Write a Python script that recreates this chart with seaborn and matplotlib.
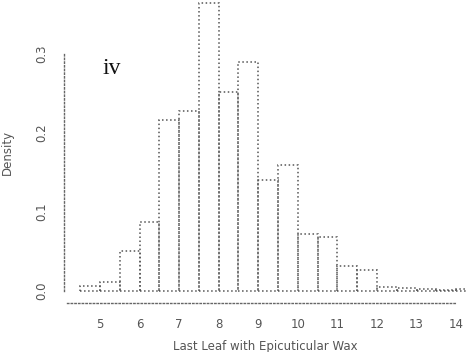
import numpy as np
import pandas as pd
import seaborn as sns
import matplotlib
matplotlib.use("Agg")
import matplotlib.pyplot as plt

# Bin edges (width 0.5) and density heights
bin_left = [4.5, 5.0, 5.5, 6.0, 6.5, 7.0, 7.5, 8.0, 8.5, 9.0, 9.5, 10.0,
            10.5, 11.0, 11.5, 12.0, 12.5, 13.0, 13.5, 14.0]
density = [0.006, 0.012, 0.051, 0.087, 0.217, 0.228, 0.364, 0.252, 0.290,
           0.140, 0.159, 0.072, 0.068, 0.032, 0.026, 0.005, 0.004, 0.002,
           0.001, 0.002]
x_ticks = [5, 6, 7, 8, 9, 10, 11, 12, 13, 14]
y_ticks = [0.0, 0.1, 0.2, 0.3]
y_tick_labels = ["0.0", "0.1", "0.2", "0.3"]

df = pd.DataFrame({"center": np.array(bin_left) + 0.25, "density": density})
edges = list(bin_left) + [bin_left[-1] + 0.5]

sns.set_style("white")
plt.rcParams["font.family"] = ["DejaVu Sans"]

fig = plt.figure(figsize=(4.72, 3.52), dpi=100)
ax = fig.add_axes([64/472, 1 - 303/352, (466 - 64)/472, (303 - 2)/352])

sns.histplot(data=df, x="center", weights="density", bins=edges, stat="count",
             fill=False, element="bars", ax=ax, color="#555555",
             linewidth=1.1, linestyle=":")
for p in ax.patches:
    p.set_edgecolor("#555555")
    p.set_linestyle(":")

ax.set_xlim(4.09, 14.25)
ax.set_ylim(-0.0152, 0.3658)

for s in ["top", "right"]:
    ax.spines[s].set_visible(False)
ax.spines["left"].set_bounds(0, 0.3)
ax.spines["bottom"].set_bounds(4.17, 14.0)
for s in ["left", "bottom"]:
    ax.spines[s].set_linestyle(":")
    ax.spines[s].set_color("#666666")
    ax.spines[s].set_linewidth(1.0)

ax.set_xticks(x_ticks)
ax.set_xticklabels([str(t) for t in x_ticks])
ax.set_yticks(y_ticks)
ax.set_yticklabels(y_tick_labels, rotation=90, va="center")
ax.tick_params(axis="both", length=5, width=0.8, color="#999999",
               labelsize=8.5, labelcolor="#555555", pad=6)

ax.set_xlabel("Last Leaf with Epicuticular Wax", fontsize=8.5, color="#555555", labelpad=6)
ax.set_ylabel("Density", fontsize=8.5, color="#555555")
ax.yaxis.set_label_coords(-0.125, 0.5)

ax.text(5.30, 0.282, "iv", fontsize=17, family="Liberation Serif",
        ha="center", va="center", color="#111111")

fig.savefig("out.png", dpi=100)
